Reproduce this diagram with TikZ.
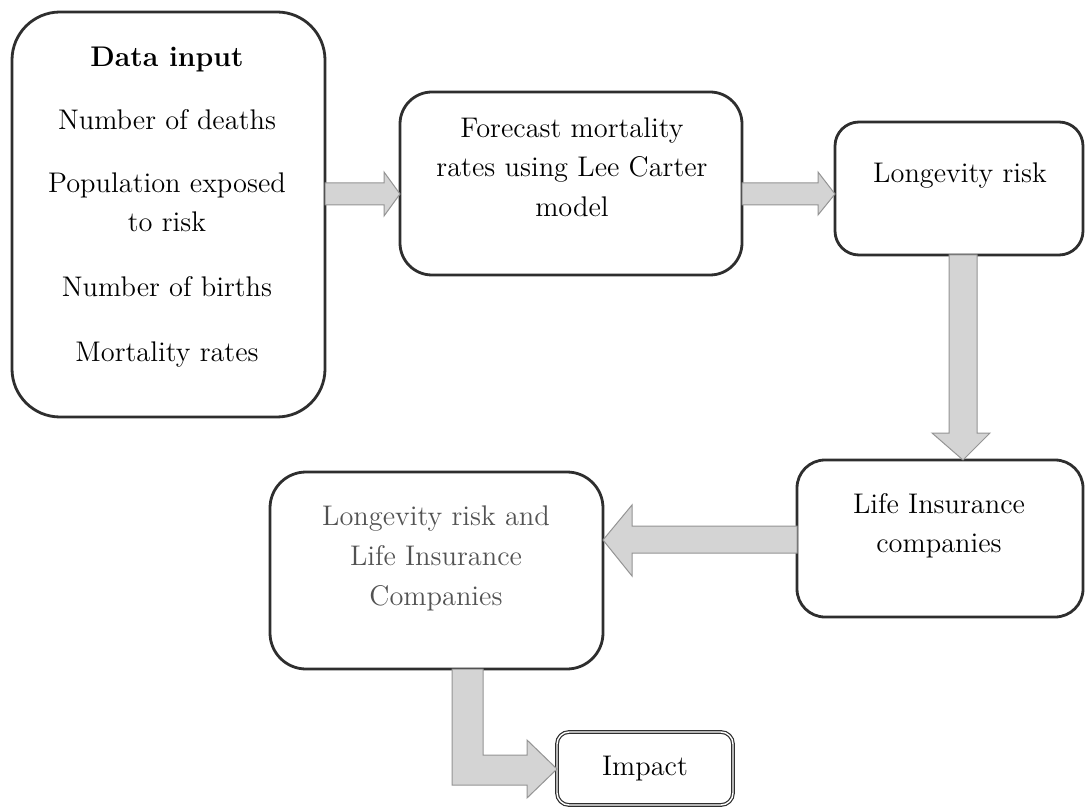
\documentclass[tikz,border=0pt]{standalone}
\begin{document}
\begin{tikzpicture}[x=0.5pt,y=-0.5pt,
  box/.style={draw=black!82, line width=1.4pt, fill=white, inner sep=0pt, outer sep=0pt},
  txt/.style={anchor=base, inner sep=0pt, font=\fontsize{14.2}{18}\selectfont, text=black},
  gtxt/.style={txt, text=black!68},
  arrowfill/.style={fill=black!17, draw=black!42, line width=0.5pt}]
\useasboundingbox (0,0) rectangle (1086,807);

% boxes
\path (168.5,214.5) node[box, minimum width=156.5pt, minimum height=202.5pt, rounded corners=24pt] (b1) {};
\path (571,183.5) node[box, minimum width=171pt, minimum height=91.5pt, rounded corners=16pt] (b2) {};
\path (959,188.5) node[box, minimum width=124pt, minimum height=66.5pt, rounded corners=12pt] (b3) {};
\path (940,538.5) node[box, minimum width=143pt, minimum height=78.5pt, rounded corners=14pt] (b4) {};
\path (436.5,570.5) node[box, minimum width=166.5pt, minimum height=98.5pt, rounded corners=18pt] (b5) {};
\path (645,768.5) node[box, minimum width=88pt, minimum height=36.5pt, rounded corners=6pt, line width=0.6pt, double=white, double distance=0.7pt] (b6) {};

% block arrows
\draw[arrowfill] (b1.east |- 0,183) -- (384,183) -- (384,172) -- (b2.west |- 0,194)
  -- (384,216) -- (384,205) -- (b1.east |- 0,205) -- cycle;
\draw[arrowfill] (b2.east |- 0,183) -- (818,183) -- (818,172) -- (b3.west |- 0,194)
  -- (818,215) -- (818,205) -- (b2.east |- 0,205) -- cycle;
\draw[arrowfill] (949,0 |- b3.south) -- (977,0 |- b3.south) -- (977,433) -- (990,433)
  -- (963,0 |- b4.north) -- (932,433) -- (949,433) -- cycle;
\draw[arrowfill] (b4.west |- 0,526) -- (632,526) -- (632,505) -- (b5.east |- 0,540)
  -- (632,576) -- (632,553) -- (b4.west |- 0,553) -- cycle;
\draw[arrowfill] (452,0 |- b5.south) -- (483,0 |- b5.south) -- (483,755) -- (527,755)
  -- (527,740) -- (b6.west |- 0,769) -- (527,798) -- (527,785) -- (452,785) -- cycle;

% texts
\node[txt] (t1a) at (167,67) {\textbf{Data input}};
\node[txt] (t1b) at (167,130) {Number of deaths};
\node[txt] (t1c) at (167,193) {Population exposed};
\node[txt] (t1d) at (167,232) {to risk};
\node[txt] (t1e) at (167,297) {Number of births};
\node[txt] (t1f) at (167,362) {Mortality rates};

\node[txt] (t2a) at (572,138) {Forecast mortality};
\node[txt] (t2b) at (572,177) {rates using Lee Carter};
\node[txt] (t2c) at (572,217) {model};

\node[txt] (t3) at (960,183) {Longevity risk};

\node[txt] (t4a) at (939,513) {Life Insurance};
\node[txt] (t4b) at (939,552) {companies};

\node[gtxt] (t5a) at (436,525) {Longevity risk and};
\node[gtxt] (t5b) at (436,565) {Life Insurance};
\node[gtxt] (t5c) at (436,605) {Companies};

\node[txt] (t6) at (645,775) {Impact};
\end{tikzpicture}
\end{document}
